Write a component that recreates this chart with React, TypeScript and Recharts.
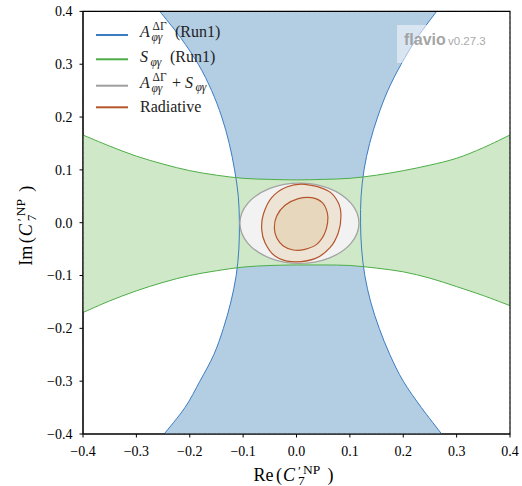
import React from 'react';
import {
  ComposedChart,
  Scatter,
  XAxis,
  YAxis,
  CartesianGrid,
  ReferenceArea,
  Customized,
} from 'recharts';

// ---------- data ----------
const axisTicks = [-0.4, -0.3, -0.2, -0.1, 0, 0.1, 0.2, 0.3, 0.4];

// A_{phi gamma}^{DeltaGamma} (Run1): allowed band, x-limits for each y
const blueY = [-0.4, -0.35, -0.3, -0.25, -0.2, -0.15, -0.1, -0.05, 0, 0.05, 0.1, 0.15, 0.2, 0.25, 0.3, 0.35, 0.4];
const blueLeft = [-0.248, -0.209, -0.181, -0.155, -0.137, -0.123, -0.113, -0.108, -0.107, -0.109, -0.116, -0.126, -0.14, -0.159, -0.184, -0.217, -0.256];
const blueRight = [0.272, 0.234, 0.2, 0.175, 0.155, 0.139, 0.128, 0.122, 0.12, 0.121, 0.1265, 0.137, 0.152, 0.171, 0.196, 0.226, 0.2625];

// S_{phi gamma} (Run1): allowed band, y-limits for each x
const greenX = [-0.4, -0.35, -0.3, -0.25, -0.2, -0.15, -0.1, -0.05, 0, 0.05, 0.1, 0.15, 0.2, 0.25, 0.3, 0.35, 0.4];
const greenUpper = [0.166, 0.145, 0.126, 0.111, 0.0985, 0.09, 0.084, 0.082, 0.081, 0.082, 0.084, 0.09, 0.0985, 0.109, 0.122, 0.142, 0.166];
const greenLower = [-0.17, -0.148, -0.129, -0.113, -0.1, -0.091, -0.084, -0.081, -0.08, -0.08, -0.081, -0.086, -0.093, -0.105, -0.121, -0.138, -0.157];

// A + S combined contour
const combX = [0.117, 0.102, 0.061, 0.0055, -0.05, -0.091, -0.106, -0.091, -0.05, 0.0055, 0.061, 0.102];
const combY = [-0.001, 0.037, 0.065, 0.075, 0.065, 0.037, -0.001, -0.039, -0.067, -0.077, -0.067, -0.039];

// Radiative contours
const radOuterX = [0.0159, 0.0596, 0.0783, 0.0833, 0.0783, 0.0627, 0.0346, -0.009, -0.0403, -0.059, -0.0652, -0.0621, -0.0465, -0.0184];
const radOuterY = [0.0727, 0.06, 0.0379, 0.0127, -0.0189, -0.0473, -0.0681, -0.0738, -0.0631, -0.0378, -0.0126, 0.0159, 0.0474, 0.0676];
const radInnerX = [0.0284, 0.0484, 0.0577, 0.0583, 0.0521, 0.0378, 0.0159, -0.0059, -0.0247, -0.0371, -0.0415, -0.0371, -0.0215, 0.0034];
const radInnerY = [0.0474, 0.0379, 0.019, 0.0001, -0.022, -0.041, -0.0504, -0.0517, -0.0441, -0.0283, -0.0094, 0.0127, 0.0329, 0.0455];

// ---------- derived point lists ----------
const bluePoly = [
  ...blueY.map((y, i) => ({ x: blueLeft[i], y })),
  ...blueY.map((y, i) => ({ x: blueRight[i], y })).reverse(),
];
const greenPoly = [
  ...greenX.map((x, i) => ({ x, y: greenUpper[i] })),
  ...greenX.map((x, i) => ({ x, y: greenLower[i] })).reverse(),
];
const combPoly = combX.map((x, i) => ({ x, y: combY[i] }));
const radOuterPoly = radOuterX.map((x, i) => ({ x, y: radOuterY[i] }));
const radInnerPoly = radInnerX.map((x, i) => ({ x, y: radInnerY[i] }));

// ---------- colours ----------
const BLUE_FILL = '#b3cde3';
const BLUE_LINE = '#3b7dc2';
const GREEN_FILL = '#cfe8c7';
const GREEN_LINE = '#4dad47';
const GRAY_FILL = '#f2f2f2';
const GRAY_LINE = '#a3a3a3';
const RED_LINE = '#b5552c';
const RED_OUTER = '#eee4d6';
const RED_INNER = '#e7d7bd';

const SERIF = "'Liberation Serif', 'DejaVu Serif', serif";

const W = 522;
const H = 486;
const MARGIN = { top: 11.4, right: 12, bottom: 0, left: 8 };

type P = { x: number; y: number };

function splineSegs(pts: P[], closed: boolean): string {
  const n = pts.length;
  if (n < 2) return '';
  const get = (i: number) => (closed ? pts[((i % n) + n) % n] : pts[Math.max(0, Math.min(n - 1, i))]);
  const segs = closed ? n : n - 1;
  let d = '';
  for (let i = 0; i < segs; i++) {
    const p0 = get(i - 1);
    const p1 = get(i);
    const p2 = get(i + 1);
    const p3 = get(i + 2);
    const c1x = p1.x + (p2.x - p0.x) / 6;
    const c1y = p1.y + (p2.y - p0.y) / 6;
    const c2x = p2.x - (p3.x - p1.x) / 6;
    const c2y = p2.y - (p3.y - p1.y) / 6;
    d += ` C ${c1x},${c1y} ${c2x},${c2y} ${p2.x},${p2.y}`;
  }
  return d;
}

function cleanPts(props: any): P[] {
  return ((props && props.points) || []).filter((p: any) => p && p.x != null && p.y != null);
}

// band made of two open sides (first n points, then the rest)
const bandRenderer = (n: number, mode: 'fill' | 'stroke', color: string, width = 1) => (props: any) => {
  const pts = cleanPts(props);
  if (pts.length < 4) return <g />;
  const a = pts.slice(0, n);
  const b = pts.slice(n);
  if (mode === 'fill') {
    const d =
      `M ${a[0].x},${a[0].y}` + splineSegs(a, false) + ` L ${b[0].x},${b[0].y}` + splineSegs(b, false) + ' Z';
    return <path d={d} fill={color} stroke="none" />;
  }
  const da = `M ${a[0].x},${a[0].y}` + splineSegs(a, false);
  const db = `M ${b[0].x},${b[0].y}` + splineSegs(b, false);
  return (
    <g>
      <path d={da} fill="none" stroke={color} strokeWidth={width} />
      <path d={db} fill="none" stroke={color} strokeWidth={width} />
    </g>
  );
};

const closedRenderer = (fill: string, stroke: string, width: number) => (props: any) => {
  const pts = cleanPts(props);
  if (pts.length < 3) return <g />;
  const d = `M ${pts[0].x},${pts[0].y}` + splineSegs(pts, true) + ' Z';
  return <path d={d} fill={fill} stroke={stroke} strokeWidth={width} />;
};

const noShape = () => <g />;

const fmt = (v: number) => (Math.abs(v) < 1e-9 ? '0.0' : v.toFixed(1)).replace('-', '\u2212');

// math-style axis label: Re(C'^{NP}_7) / Im(...)
function MathLabel({ prefix, x0, y0, rotate }: { prefix: string; x0: number; y0: number; rotate?: boolean }) {
  const fs = 18;
  const sfs = 13.5;
  const start = -43;
  return (
    <g transform={`translate(${x0},${y0})${rotate ? ' rotate(-90)' : ''}`}>
      <text fontFamily={SERIF} fontSize={fs} fill="#000">
        <tspan x={start} y={0}>{prefix}</tspan>
        <tspan x={start + 22.5} y={0}>(</tspan>
        <tspan x={start + 29.5} y={0} fontStyle="italic">C</tspan>
        <tspan x={start + 44.5} y={-6} fontSize={sfs}>{'\u2032'}</tspan>
        <tspan x={start + 49.5} y={-7} fontSize={sfs}>NP</tspan>
        <tspan x={start + 44.5} y={4} fontSize={sfs}>7</tspan>
        <tspan x={start + 74} y={0}>)</tspan>
      </text>
    </g>
  );
}

function Overlay() {
  const lfs = 16;
  const sfs = 11.5;
  return (
    <g>
      {/* watermark */}
      <rect x={397} y={25} width={57} height={38} fill="#ffffff" fillOpacity={0.5} />
      <text x={404} y={45} fontFamily="'Liberation Sans', Arial, sans-serif" fontWeight="bold" fontSize={16} fill="#999999" fillOpacity={0.9}>
        flavio
      </text>
      <text x={448} y={45} fontFamily="'Liberation Sans', Arial, sans-serif" fontSize={11.5} fill="#aaaaaa">
        v0.27.3
      </text>

      {/* legend */}
      <line x1={96} x2={128} y1={35} y2={35} stroke={BLUE_LINE} strokeWidth={2} />
      <line x1={96} x2={128} y1={59.3} y2={59.3} stroke={GREEN_LINE} strokeWidth={2} />
      <line x1={96} x2={128} y1={85.7} y2={85.7} stroke="#9e9e9e" strokeWidth={2} />
      <line x1={96} x2={128} y1={107.3} y2={107.3} stroke={RED_LINE} strokeWidth={2} />

      <text fontFamily={SERIF} fontSize={lfs} fill="#222">
        <tspan x={140} y={36.7} fontStyle="italic">A</tspan>
        <tspan x={152.5} y={30} fontSize={sfs}>ΔΓ</tspan>
        <tspan x={151.5} y={41} fontSize={sfs} fontStyle="italic">φγ</tspan>
        <tspan x={175} y={36.7}>(Run1)</tspan>
      </text>
      <text fontFamily={SERIF} fontSize={lfs} fill="#222">
        <tspan x={140} y={62} fontStyle="italic">S</tspan>
        <tspan x={150.5} y={65.5} fontSize={sfs} fontStyle="italic">φγ</tspan>
        <tspan x={170} y={62}>(Run1)</tspan>
      </text>
      <text fontFamily={SERIF} fontSize={lfs} fill="#222">
        <tspan x={140} y={87.5} fontStyle="italic">A</tspan>
        <tspan x={152.5} y={81} fontSize={sfs}>ΔΓ</tspan>
        <tspan x={151.5} y={92} fontSize={sfs} fontStyle="italic">φγ</tspan>
        <tspan x={172} y={87.5}>+</tspan>
        <tspan x={185} y={87.5} fontStyle="italic">S</tspan>
        <tspan x={195.5} y={91} fontSize={sfs} fontStyle="italic">φγ</tspan>
      </text>
      <text x={140} y={111.7} fontFamily={SERIF} fontSize={lfs} fill="#222">
        Radiative
      </text>

      {/* axis labels */}
      <MathLabel prefix="Re" x0={296.5} y0={480.5} />
      <MathLabel prefix="Im" x0={31.7} y0={222.7} rotate />
    </g>
  );
}

const layer: React.CSSProperties = { position: 'absolute', left: 0, top: 0 };

export default function App() {
  return (
    <div style={{ position: 'absolute', left: 0, top: 0, width: W, height: H }}>
      {/* data layer with axes */}
      <div style={layer}>
        <ComposedChart width={W} height={H} margin={MARGIN}>
          <XAxis
            type="number"
            dataKey="x"
            domain={[-0.4, 0.4]}
            ticks={axisTicks}
            interval={0}
            allowDataOverflow
            tickFormatter={fmt}
            height={52}
            tickSize={3.5}
            tickMargin={9}
            tick={{ fontFamily: SERIF, fontSize: 14, fill: '#000' }}
            axisLine={{ stroke: '#000' }}
            tickLine={{ stroke: '#000' }}
          />
          <YAxis
            type="number"
            dataKey="y"
            domain={[-0.4, 0.4]}
            ticks={axisTicks}
            interval={0}
            allowDataOverflow
            tickFormatter={fmt}
            width={75}
            tickSize={3.5}
            tickMargin={7}
            tick={{ fontFamily: SERIF, fontSize: 14, fill: '#000' }}
            axisLine={{ stroke: '#000' }}
            tickLine={{ stroke: '#000' }}
          />
          <Scatter data={bluePoly} line={bandRenderer(blueY.length, 'fill', BLUE_FILL)} shape={noShape} isAnimationActive={false} legendType="none" />
          <Scatter data={greenPoly} line={bandRenderer(greenX.length, 'fill', GREEN_FILL)} shape={noShape} isAnimationActive={false} legendType="none" />
          <Scatter data={bluePoly} line={bandRenderer(blueY.length, 'stroke', BLUE_LINE, 1)} shape={noShape} isAnimationActive={false} legendType="none" />
          <Scatter data={greenPoly} line={bandRenderer(greenX.length, 'stroke', GREEN_LINE, 1)} shape={noShape} isAnimationActive={false} legendType="none" />
          <Scatter data={combPoly} line={closedRenderer(GRAY_FILL, GRAY_LINE, 1.3)} shape={noShape} isAnimationActive={false} legendType="none" />
          <Scatter data={radOuterPoly} line={closedRenderer(RED_OUTER, RED_LINE, 1.2)} shape={noShape} isAnimationActive={false} legendType="none" />
          <Scatter data={radInnerPoly} line={closedRenderer(RED_INNER, RED_LINE, 1.2)} shape={noShape} isAnimationActive={false} legendType="none" />
        </ComposedChart>
      </div>
      {/* grid, frame, legend and labels on top */}
      <div style={{ ...layer, pointerEvents: 'none' }}>
        <ComposedChart width={W} height={H} margin={MARGIN}>
          <XAxis
            type="number"
            dataKey="x"
            domain={[-0.4, 0.4]}
            ticks={axisTicks}
            interval={0}
            allowDataOverflow
            height={52}
            tick={false}
            tickLine={false}
            axisLine={false}
          />
          <YAxis
            type="number"
            dataKey="y"
            domain={[-0.4, 0.4]}
            ticks={axisTicks}
            interval={0}
            allowDataOverflow
            width={75}
            tick={false}
            tickLine={false}
            axisLine={false}
          />
          <CartesianGrid strokeDasharray="3 2" stroke="#707070" strokeOpacity={0.5} />
          <ReferenceArea x1={-0.4} x2={0.4} y1={-0.4} y2={0.4} fill="none" stroke="#000" strokeWidth={1.1} ifOverflow="visible" />
          <Customized component={Overlay} />
        </ComposedChart>
      </div>
    </div>
  );
}
